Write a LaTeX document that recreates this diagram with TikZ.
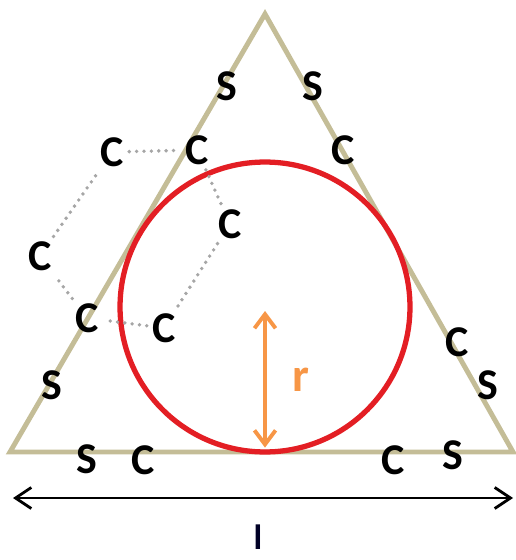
\documentclass[tikz,border=0pt]{standalone}
\usepackage{fontspec}
\setmainfont{Carlito}
\usetikzlibrary{arrows.meta}

\definecolor{tan}{RGB}{196,189,151}
\definecolor{ringred}{RGB}{227,30,36}
\definecolor{radorange}{RGB}{247,150,70}
\definecolor{bondgrey}{RGB}{166,166,166}

\tikzset{
  atom/.style={inner sep=1pt, font=\fontsize{25}{27}\selectfont\bfseries},
  bond/.style={bondgrey, line width=2.2pt, dash pattern=on 0pt off 4.2pt, line cap=round, shorten >=2pt, shorten <=2pt},
}

\begin{document}
\begin{tikzpicture}[x=0.02cm, y=-0.02cm]
    \useasboundingbox (0,0) rectangle (515,560);

    % 三角形
    \coordinate (top) at (265,14);
    \coordinate (bl) at (10,452);
    \coordinate (br) at (513,452);
    \draw[tan, line width=2.8pt, line join=miter] (top) -- (br) -- (bl) -- cycle;

    % 内切圆
    \coordinate (o) at (265,307);
    \coordinate (foot) at (265,452);
    \draw[ringred, line width=3pt] (o) circle[radius=2.9cm];

    % 原子
    \node[atom] (s1) at (227,86) {S};
    \node[atom] (s2) at (313,86) {S};
    \node[atom] (c1) at (112,152) {C};
    \node[atom] (c2) at (197,150) {C};
    \node[atom] (c3) at (343,150) {C};
    \node[atom] (c4) at (230,224) {C};
    \node[atom] (c5) at (40,256) {C};
    \node[atom] (c6) at (87,318) {C};
    \node[atom] (c7) at (164,328) {C};
    \node[atom] (s3) at (52,385) {S};
    \node[atom] (c8) at (457,342) {C};
    \node[atom] (s4) at (488,385) {S};
    \node[atom] (s5) at (87,459) {S};
    \node[atom] (c9) at (143,460) {C};
    \node[atom] (c10) at (393,460) {C};
    \node[atom] (s6) at (453,455) {S};

    % 六元环
    \draw[bond] (c1) -- (c2);
    \draw[bond] (c2) -- (c4);
    \draw[bond] (c4) -- (c7);
    \draw[bond] (c7) -- (c6);
    \draw[bond] (c6) -- (c5);
    \draw[bond] (c5) -- (c1);

    % 半径
    \coordinate (rtop) at (265,311);
    \draw[{Straight Barb[length=8pt,width=12pt]}-{Straight Barb[length=8pt,width=12pt]}, radorange, line width=2.2pt]
        (rtop) -- node[right=11pt, font=\fontsize{27}{29}\selectfont\bfseries] (rlab) {r} ([yshift=2.5pt]foot);

    % 边长
    \coordinate (lleft) at (13,498);
    \coordinate (lright) at (513,498);
    \draw[{Straight Barb[length=9pt,width=12pt]}-{Straight Barb[length=9pt,width=12pt]}, line width=1.6pt]
        (lleft) -- (lright);
    \node[anchor=north, inner sep=0pt, font=\fontsize{20}{22}\selectfont\bfseries, text=black!85!blue] (llab) at (258,524) {l};
\end{tikzpicture}
\end{document}
